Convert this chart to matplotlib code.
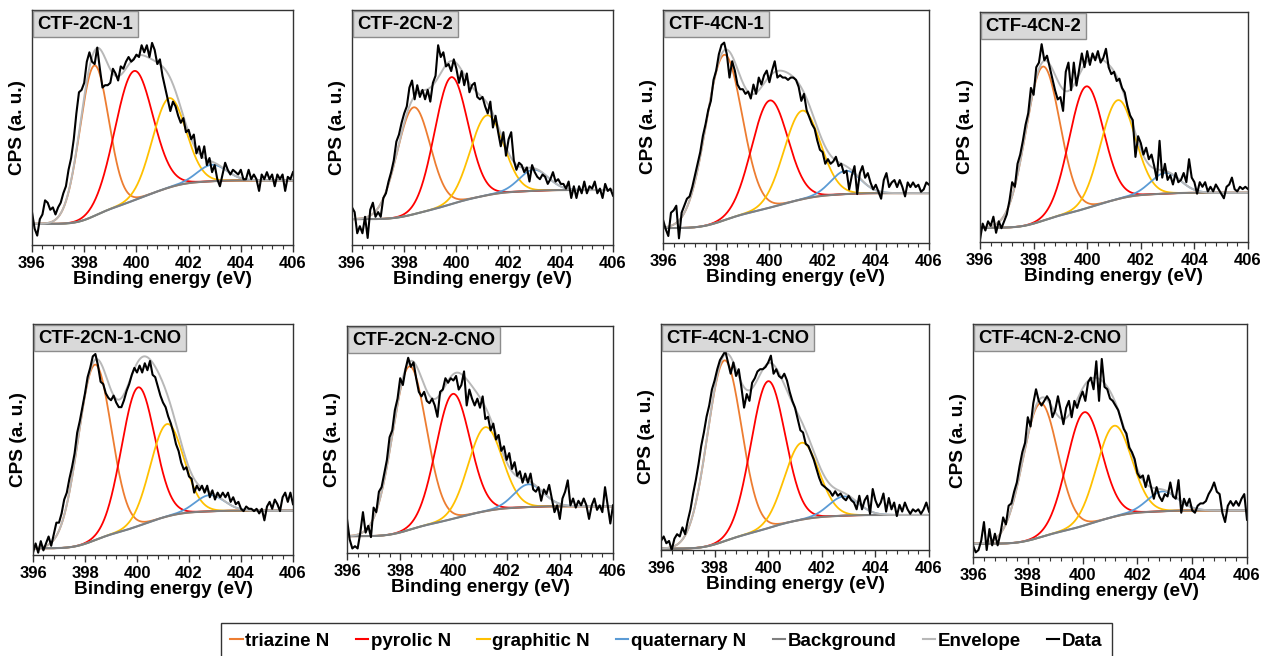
import numpy as np
import matplotlib
matplotlib.use('Agg')
import matplotlib.pyplot as plt
from matplotlib.ticker import MultipleLocator, AutoMinorLocator

plt.rcParams['font.family'] = ['Liberation Sans', 'DejaVu Sans']
plt.rcParams['font.weight'] = 'bold'

# N 1s XPS spectra, 396 - 406 eV, step 0.1 eV (intensity in a.u., axis height = 100)
energy = np.round(np.arange(396.0, 406.05, 0.1), 1)

names = ['CTF-2CN-1', 'CTF-2CN-2', 'CTF-4CN-1', 'CTF-4CN-2',
         'CTF-2CN-1-CNO', 'CTF-2CN-2-CNO', 'CTF-4CN-1-CNO', 'CTF-4CN-2-CNO']

data_2cn1 = [14, 7, 4, 11, 13, 19, 18, 15, 16, 13,
             16, 18, 22, 25, 32, 37, 45, 56, 65, 66,
             69, 78, 82, 78, 77, 84, 75, 67, 68, 68,
             69, 75, 73, 70, 76, 75, 78, 80, 78, 79,
             81, 80, 85, 82, 85, 80, 86, 83, 77, 79,
             72, 67, 62, 57, 61, 59, 55, 52, 54, 48,
             49, 45, 47, 39, 42, 37, 42, 34, 37, 31,
             34, 28, 25, 30, 35, 32, 30, 32, 31, 30,
             32, 28, 28, 32, 28, 30, 28, 23, 30, 28,
             31, 28, 30, 25, 30, 28, 30, 23, 29, 28,
             31]
data_2cn2 = [16, 14, 5, 8, 5, 12, 3, 15, 18, 12,
             14, 12, 20, 22, 27, 31, 36, 44, 47, 52,
             56, 59, 67, 70, 62, 68, 63, 66, 62, 66,
             61, 69, 72, 85, 80, 82, 76, 77, 74, 79,
             75, 69, 74, 68, 73, 65, 68, 69, 63, 62,
             63, 59, 56, 61, 50, 55, 48, 42, 48, 38,
             45, 48, 36, 32, 35, 34, 31, 33, 27, 34,
             31, 29, 28, 30, 29, 26, 28, 31, 27, 28,
             26, 26, 24, 27, 20, 25, 20, 25, 22, 27,
             22, 25, 24, 27, 22, 24, 20, 26, 23, 24,
             21]
data_4cn1 = [10, 6, 3, 13, 14, 16, 2, 13, 16, 19,
             20, 24, 29, 34, 39, 46, 51, 57, 61, 70,
             74, 81, 85, 86, 81, 71, 78, 74, 68, 66,
             66, 64, 65, 62, 68, 64, 71, 68, 72, 74,
             69, 74, 78, 71, 72, 71, 71, 70, 71, 71,
             70, 67, 61, 64, 57, 54, 51, 49, 44, 40,
             39, 34, 36, 34, 35, 37, 33, 34, 30, 31,
             23, 29, 33, 21, 30, 33, 28, 30, 26, 23,
             25, 22, 19, 27, 30, 24, 26, 27, 24, 27,
             24, 20, 26, 24, 26, 24, 25, 22, 23, 26,
             25]
data_4cn2 = [1, 8, 5, 9, 7, 11, 4, 9, 6, 9,
             12, 18, 26, 24, 34, 38, 44, 51, 56, 67,
             64, 76, 78, 86, 79, 81, 76, 71, 66, 62,
             63, 57, 74, 78, 66, 78, 68, 75, 82, 76,
             83, 77, 82, 79, 83, 78, 80, 84, 76, 73,
             74, 70, 71, 67, 65, 59, 55, 53, 37, 46,
             43, 38, 41, 36, 38, 33, 27, 44, 28, 34,
             27, 29, 25, 30, 26, 27, 30, 26, 36, 28,
             26, 21, 26, 24, 26, 22, 24, 22, 25, 23,
             21, 19, 24, 25, 28, 23, 22, 24, 23, 24,
             23]
data_2cn1_cno = [1, 5, 1, 6, 2, 5, 8, 4, 9, 14,
                 14, 18, 24, 27, 33, 38, 44, 53, 58, 64,
                 70, 77, 81, 86, 87, 82, 75, 74, 70, 68,
                 67, 69, 66, 64, 64, 67, 71, 74, 78, 81,
                 79, 82, 79, 83, 80, 84, 78, 77, 73, 69,
                 66, 64, 60, 57, 53, 48, 45, 40, 37, 38,
                 34, 33, 27, 30, 28, 30, 27, 30, 25, 28,
                 24, 27, 25, 27, 25, 27, 23, 25, 22, 23,
                 20, 19, 21, 20, 20, 19, 20, 18, 20, 15,
                 21, 23, 20, 24, 22, 19, 25, 27, 23, 27,
                 22]
data_2cn2_cno = [15, 6, 2, 3, 2, 9, 18, 9, 12, 7,
                 20, 18, 27, 29, 35, 41, 51, 54, 63, 68,
                 77, 74, 81, 86, 82, 84, 77, 71, 69, 71,
                 67, 66, 68, 65, 60, 71, 72, 77, 75, 77,
                 76, 78, 72, 74, 80, 65, 72, 68, 65, 68,
                 64, 69, 59, 60, 54, 57, 50, 52, 45, 47,
                 41, 44, 37, 40, 34, 36, 31, 35, 31, 35,
                 28, 27, 29, 23, 28, 26, 30, 24, 18, 21,
                 15, 24, 27, 32, 21, 24, 20, 23, 21, 24,
                 21, 15, 21, 24, 19, 21, 18, 29, 21, 13,
                 21]
data_4cn1_cno = [4, 6, 3, 4, 0, 5, 7, 6, 10, 7,
                 13, 18, 25, 31, 38, 46, 52, 59, 64, 71,
                 75, 80, 84, 86, 88, 83, 78, 83, 77, 80,
                 72, 63, 69, 66, 74, 76, 79, 80, 80, 81,
                 83, 86, 78, 80, 77, 76, 78, 75, 70, 66,
                 63, 58, 53, 52, 47, 46, 43, 40, 36, 32,
                 29, 28, 27, 26, 24, 26, 24, 25, 23, 22,
                 24, 22, 21, 18, 24, 18, 22, 24, 16, 27,
                 22, 19, 21, 25, 17, 23, 18, 21, 15, 20,
                 17, 21, 18, 16, 18, 17, 18, 16, 18, 21,
                 17]
data_4cn2_cno = [5, 2, 3, 7, 15, 3, 12, 5, 10, 5,
                 10, 17, 14, 22, 23, 28, 32, 39, 45, 49,
                 60, 56, 66, 72, 67, 65, 67, 69, 67, 60,
                 63, 69, 63, 57, 64, 67, 60, 67, 64, 68,
                 71, 67, 75, 77, 72, 84, 67, 85, 73, 72,
                 68, 67, 65, 63, 59, 55, 53, 47, 45, 42,
                 36, 34, 35, 30, 35, 30, 25, 30, 26, 24,
                 27, 26, 32, 26, 25, 33, 19, 25, 22, 25,
                 20, 19, 22, 23, 23, 24, 27, 29, 32, 28,
                 27, 19, 15, 22, 24, 22, 24, 22, 25, 27,
                 16]

# fitted peaks: triazine N, pyrolic N, graphitic N, quaternary N
centers = [[398.38, 399.90, 401.25, 402.90],
           [398.36, 399.80, 401.17, 402.96],
           [398.29, 400.01, 401.23, 402.87],
           [398.34, 399.96, 401.14, 402.92],
           [398.37, 400.04, 401.15, 402.80],
           [398.34, 399.98, 401.20, 402.83],
           [398.36, 399.99, 401.25, 402.82],
           [398.45, 400.06, 401.15, 402.92]]
heights = [[64, 55, 38, 7],
           [45.5, 54, 34, 9],
           [71, 46, 38, 10],
           [67, 53, 43, 9],
           [76, 60, 40, 7],
           [72, 55, 37, 10],
           [80, 65, 34, 8.5],
           [57.5, 48.6, 39, 8.5]]
fwhm = [[1.3, 1.7, 1.5, 1.3],
        [1.5, 1.5, 1.5, 1.3],
        [1.6, 1.6, 1.6, 1.3],
        [1.5, 1.5, 1.5, 1.3],
        [1.5, 1.5, 1.5, 1.3],
        [1.5, 1.5, 1.5, 1.3],
        [1.5, 1.5, 1.5, 1.3],
        [1.5, 1.5, 1.5, 1.3]]
# Shirley background, low / high energy side levels
bg_levels = [[9, 27.5], [11, 23.4], [6.4, 21.4], [6.2, 21.4],
             [2.9, 19.2], [7.4, 20.6], [0.6, 15.5], [5.7, 20]]

all_data = [data_2cn1, data_2cn2, data_4cn1, data_4cn2,
            data_2cn1_cno, data_2cn2_cno, data_4cn1_cno, data_4cn2_cno]

comp_labels = ['triazine N', 'pyrolic N', 'graphitic N', 'quaternary N']
comp_colors = ['#ed7d31', '#ff0000', '#ffc000', '#5b9bd5']

# axes boxes in pixels: left, right, top, bottom
boxes = [(32, 293, 10, 245), (352, 613, 10, 245), (663, 929, 10, 243), (980, 1248, 12, 242),
         (33, 293, 324, 555), (347, 613, 326, 553), (661, 929, 324, 550), (973, 1247, 324, 557)]

W, H = 1261, 656
fig = plt.figure(figsize=(W / 100, H / 100), dpi=100)


def gauss(x, c, h, w):
    return h * np.exp(-4 * np.log(2) * (x - c) ** 2 / w ** 2)


xf = np.linspace(396, 406, 501)
handles = []
for i in range(8):
    l, r, t, b = boxes[i]
    ax = fig.add_axes([l / W, 1 - b / H, (r - l) / W, (b - t) / H])

    comps = [gauss(xf, c, h, w) for c, h, w in zip(centers[i], heights[i], fwhm[i])]
    total = np.sum(comps, axis=0)
    cum = np.cumsum(total)
    lo, hi = bg_levels[i]
    bg = lo + (hi - lo) * cum / cum[-1]

    hs = []
    for comp, col, lab in zip(comps, comp_colors, comp_labels):
        hs.append(ax.plot(xf, bg + comp, color=col, lw=1.3, label=lab)[0])
    hs.append(ax.plot(xf, bg, color='#7f7f7f', lw=1.5, label='Background')[0])
    hs.append(ax.plot(xf, bg + total, color='#b8b8b8', lw=1.4, label='Envelope')[0])
    hs.append(ax.plot(energy, all_data[i], color='black', lw=1.5, label='Data')[0])
    if i == 0:
        handles = hs

    ax.set_xlim(396, 406)
    ax.set_ylim(0, 100)
    ax.xaxis.set_major_locator(MultipleLocator(2))
    ax.xaxis.set_minor_locator(AutoMinorLocator(5))
    ax.set_yticks([])
    ax.tick_params(axis='x', which='major', direction='out', length=5, width=1,
                   labelsize=12, pad=3, color='#333333')
    ax.tick_params(axis='x', which='minor', direction='out', length=3, width=0.8, color='#333333')
    for sp in ax.spines.values():
        sp.set_color('#333333')
        sp.set_linewidth(1.0)
    ax.set_xlabel('Binding energy (eV)', fontsize=13.7, fontweight='bold', labelpad=0)
    ax.set_ylabel('CPS (a. u.)', fontsize=13.7, fontweight='bold', labelpad=4)
    ax.annotate(names[i], xy=(0, 1), xycoords='axes fraction', xytext=(4, -4),
                textcoords='offset points', ha='left', va='top', fontsize=13.3,
                fontweight='bold',
                bbox=dict(boxstyle='square,pad=0.25', fc='#d9d9d9', ec='#8c8c8c', lw=1))

leg = fig.legend(handles, [h.get_label() for h in handles], loc='upper center',
                 bbox_to_anchor=(666.5 / W, 1 - 623 / H), ncol=7, frameon=True,
                 fancybox=False, edgecolor='black', fontsize=13.5, handlelength=0.65,
                 handletextpad=0.15, columnspacing=1.4, borderpad=0.5, borderaxespad=0)
leg.get_frame().set_linewidth(1.0)
for line in leg.get_lines():
    line.set_linewidth(1.5)

fig.savefig('out.png', dpi=100)
